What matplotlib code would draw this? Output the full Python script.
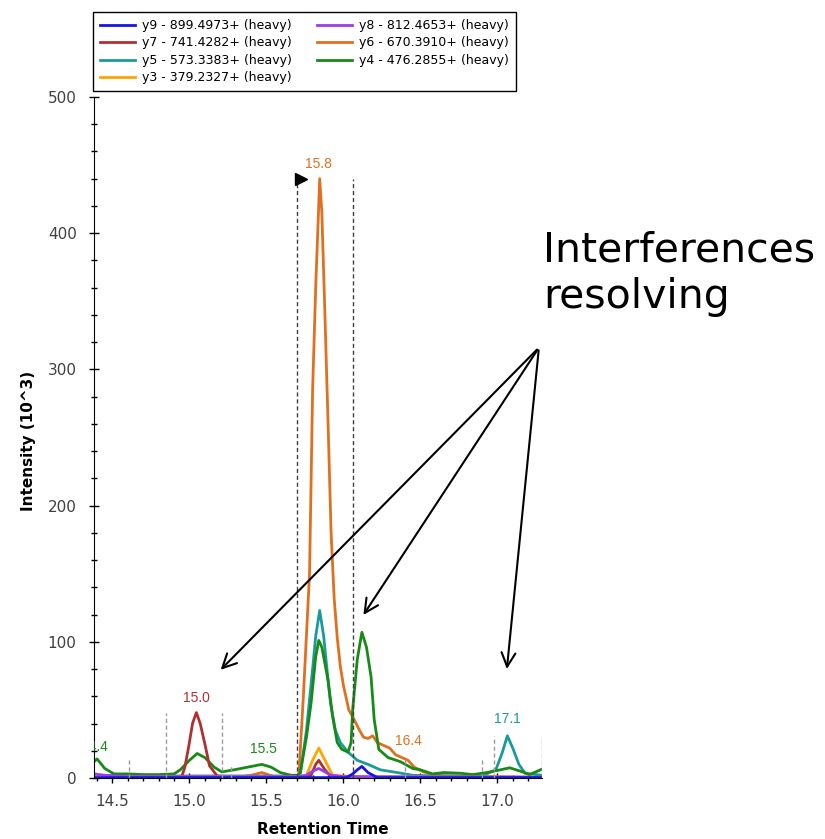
import matplotlib
matplotlib.use("Agg")
import matplotlib.pyplot as plt
from matplotlib.ticker import MultipleLocator

plt.rcParams['font.family'] = ['DejaVu Sans']

# transitions (retention time, intensity in 10^3)
y9_t = [14.38, 16.02, 16.06, 16.09, 16.12, 16.16, 16.22, 17.29]
y9_i = [0.3, 0.3, 3, 6, 8.5, 4, 0.3, 0.3]

y8_t = [14.38, 14.45, 14.6, 15.7, 15.76, 15.8, 15.84, 15.88, 15.92, 16.0, 17.29]
y8_i = [3, 2, 1, 1, 2, 5, 7, 4.5, 2, 1, 0.5]

y7_t = [14.38, 14.9, 14.95, 14.97, 14.995, 15.02, 15.045, 15.07, 15.104, 15.13, 15.18, 15.3,
        15.75, 15.79, 15.82, 15.84, 15.88, 15.92, 16.0, 17.29]
y7_i = [0.5, 0.5, 1, 8, 23, 40, 48, 40, 23, 9, 1.5, 0.5,
        0.5, 2, 10, 13, 6, 1, 0.5, 0.5]

y6_t = [14.38, 15.3, 15.4, 15.47, 15.55, 15.71, 15.74, 15.76, 15.78, 15.80, 15.82, 15.846,
        15.86, 15.88, 15.90, 15.92, 15.94, 15.96, 15.98, 16.00, 16.035, 16.06, 16.10, 16.13,
        16.16, 16.19, 16.22, 16.26, 16.30, 16.34, 16.38, 16.42, 16.46, 16.52, 16.60, 16.70,
        17.0, 17.29]
y6_i = [0.5, 0.5, 2, 4, 1, 1, 60, 105, 150, 285, 360, 440,
        415, 340, 262, 180, 132, 103, 82, 68, 50, 45, 36, 30,
        29, 31, 26, 24, 22, 17, 15, 13, 8, 4.5, 2, 1.5,
        1, 0.5]

y5_t = [14.38, 15.0, 15.70, 15.72, 15.76, 15.80, 15.82, 15.846, 15.872, 15.894, 15.916, 15.948,
        15.98, 16.03, 16.09, 16.16, 16.24, 16.35, 16.45, 16.6, 16.9, 16.99, 17.03, 17.065,
        17.10, 17.14, 17.18, 17.29]
y5_i = [1.5, 1.5, 1.5, 3, 35, 80, 104, 123, 104, 79, 55, 35,
        26, 19, 13, 10, 6, 4, 2, 1.5, 1.5, 6, 18, 31,
        22, 10, 3.5, 2]

y4_t = [14.38, 14.40, 14.45, 14.51, 14.6, 14.7, 14.8, 14.9, 14.94, 15.0, 15.05, 15.1, 15.16,
        15.21, 15.29, 15.38, 15.47, 15.53, 15.59, 15.66, 15.70, 15.72, 15.76, 15.79, 15.82,
        15.84, 15.86, 15.90, 15.93, 15.96, 15.99, 16.03, 16.05, 16.06, 16.09, 16.12, 16.15,
        16.18, 16.20, 16.23, 16.29, 16.37, 16.45, 16.5, 16.58, 16.65, 16.76, 16.84, 16.93,
        17.02, 17.08, 17.15, 17.21, 17.29]
y4_i = [12, 14, 7, 3, 3, 2.5, 2.5, 3, 6, 13, 18, 15, 8,
        4.5, 6, 8, 10, 8, 4, 2, 2, 4, 30, 55, 89,
        101, 96, 72, 45, 26, 21, 19, 26, 50, 87, 107, 96,
        74, 43, 21, 15, 12, 7, 6, 3, 4, 3.5, 2.5, 4,
        6, 7.5, 5, 2.5, 6.5]

y3_t = [14.38, 15.7, 15.76, 15.80, 15.84, 15.88, 15.93, 16.0, 16.1, 17.29]
y3_i = [1, 1, 2, 13, 22, 13, 2, 1.5, 1, 0.5]

labels = ["y9 - 899.4973+ (heavy)", "y7 - 741.4282+ (heavy)", "y5 - 573.3383+ (heavy)",
          "y3 - 379.2327+ (heavy)", "y8 - 812.4653+ (heavy)", "y6 - 670.3910+ (heavy)",
          "y4 - 476.2855+ (heavy)"]
colors = ["#1515e6", "#b03030", "#1a9a9a", "#ffa500", "#9b3de8", "#e07020", "#178a17"]
series = [(y9_t, y9_i), (y7_t, y7_i), (y5_t, y5_i), (y3_t, y3_i),
          (y8_t, y8_i), (y6_t, y6_i), (y4_t, y4_i)]

# peak boundary markers
bound_t = [14.61, 14.85, 15.21, 15.27, 16.40, 16.90, 16.98, 17.29]
bound_top = [13, 48, 48, 10, 15, 15, 31, 31]
peak_start = 15.70
peak_end = 16.06

# peak apex labels
peak_text = ["15.8", "15.0", "14.4", "15.5", "16.4", "17.1"]
peak_x = [15.84, 15.045, 14.385, 15.48, 16.42, 17.065]
peak_y = [451, 59, 23, 21, 27, 43]
peak_col = ["#e07020", "#b03030", "#178a17", "#178a17", "#e07020", "#1a9a9a"]

W, H = 825, 839
fig = plt.figure(figsize=(W / 100, H / 100), dpi=100)
ax = fig.add_axes([94 / W, 1 - 778 / H, (542 - 94) / W, (778 - 97) / H])

draw_order = [5, 2, 6, 1, 3, 4, 0]
handles = [None] * 7
for k in draw_order:
    t, i = series[k]
    h, = ax.plot(t, i, color=colors[k], lw=2, label=labels[k], solid_joinstyle='round')
    handles[k] = h

ax.vlines(bound_t, 0, bound_top, colors="#9a9a9a", linestyles=(0, (3, 2)), lw=1)
ax.vlines([peak_start, peak_end], 0, 440, colors="#404040", linestyles=(0, (3, 2)), lw=1)
ax.plot([peak_start + 0.025], [440], marker='>', color='black', ms=8)

for s, x, y, c in zip(peak_text, peak_x, peak_y, peak_col):
    ax.text(x, y, s, color=c, fontsize=10, family='Liberation Sans',
            ha='center', va='center', clip_on=True)

ax.set_xlim(14.38, 17.29)
ax.set_ylim(0, 500)
ax.xaxis.set_major_locator(MultipleLocator(0.5))
ax.xaxis.set_minor_locator(MultipleLocator(0.1))
ax.yaxis.set_major_locator(MultipleLocator(100))
ax.yaxis.set_minor_locator(MultipleLocator(20))
ax.tick_params(which='major', direction='inout', length=7, width=1, labelsize=11,
               labelcolor='#404040')
ax.tick_params(which='minor', direction='inout', length=5, width=1)
ax.tick_params(axis='y', which='major', pad=9)
ax.tick_params(axis='x', which='major', pad=8)
ax.spines['top'].set_visible(False)
ax.spines['right'].set_visible(False)

fig.text(323 / W, 1 - 830 / H, "Retention Time", fontsize=11, fontweight='bold',
         ha='center', va='center')
fig.text(28 / W, 1 - 441 / H, "Intensity (10^3)", fontsize=11, fontweight='bold',
         rotation=90, ha='center', va='center')

leg = fig.legend(handles=handles, loc='upper left', bbox_to_anchor=(93 / W, 1 - 12 / H),
                 borderaxespad=0, ncol=2, fontsize=9, frameon=True, fancybox=False,
                 edgecolor='black', framealpha=1, borderpad=0.55, labelspacing=0.36,
                 handlelength=2.8, columnspacing=2.0, handletextpad=0.56)
leg.get_frame().set_linewidth(1)

# callout
fig.text(543 / W, 1 - 262 / H, "Interferences", fontsize=29.5, ha='left', va='baseline')
fig.text(543 / W, 1 - 308 / H, "resolving", fontsize=29.5, ha='left', va='baseline')
for tx, ty in [(15.19, 78), (16.12, 118), (17.06, 78)]:
    ax.annotate("", xy=(tx, ty), xytext=(17.27, 316), annotation_clip=False,
                arrowprops=dict(arrowstyle='->', color='black', lw=1.5, mutation_scale=25))

fig.savefig("out.png", dpi=100)
